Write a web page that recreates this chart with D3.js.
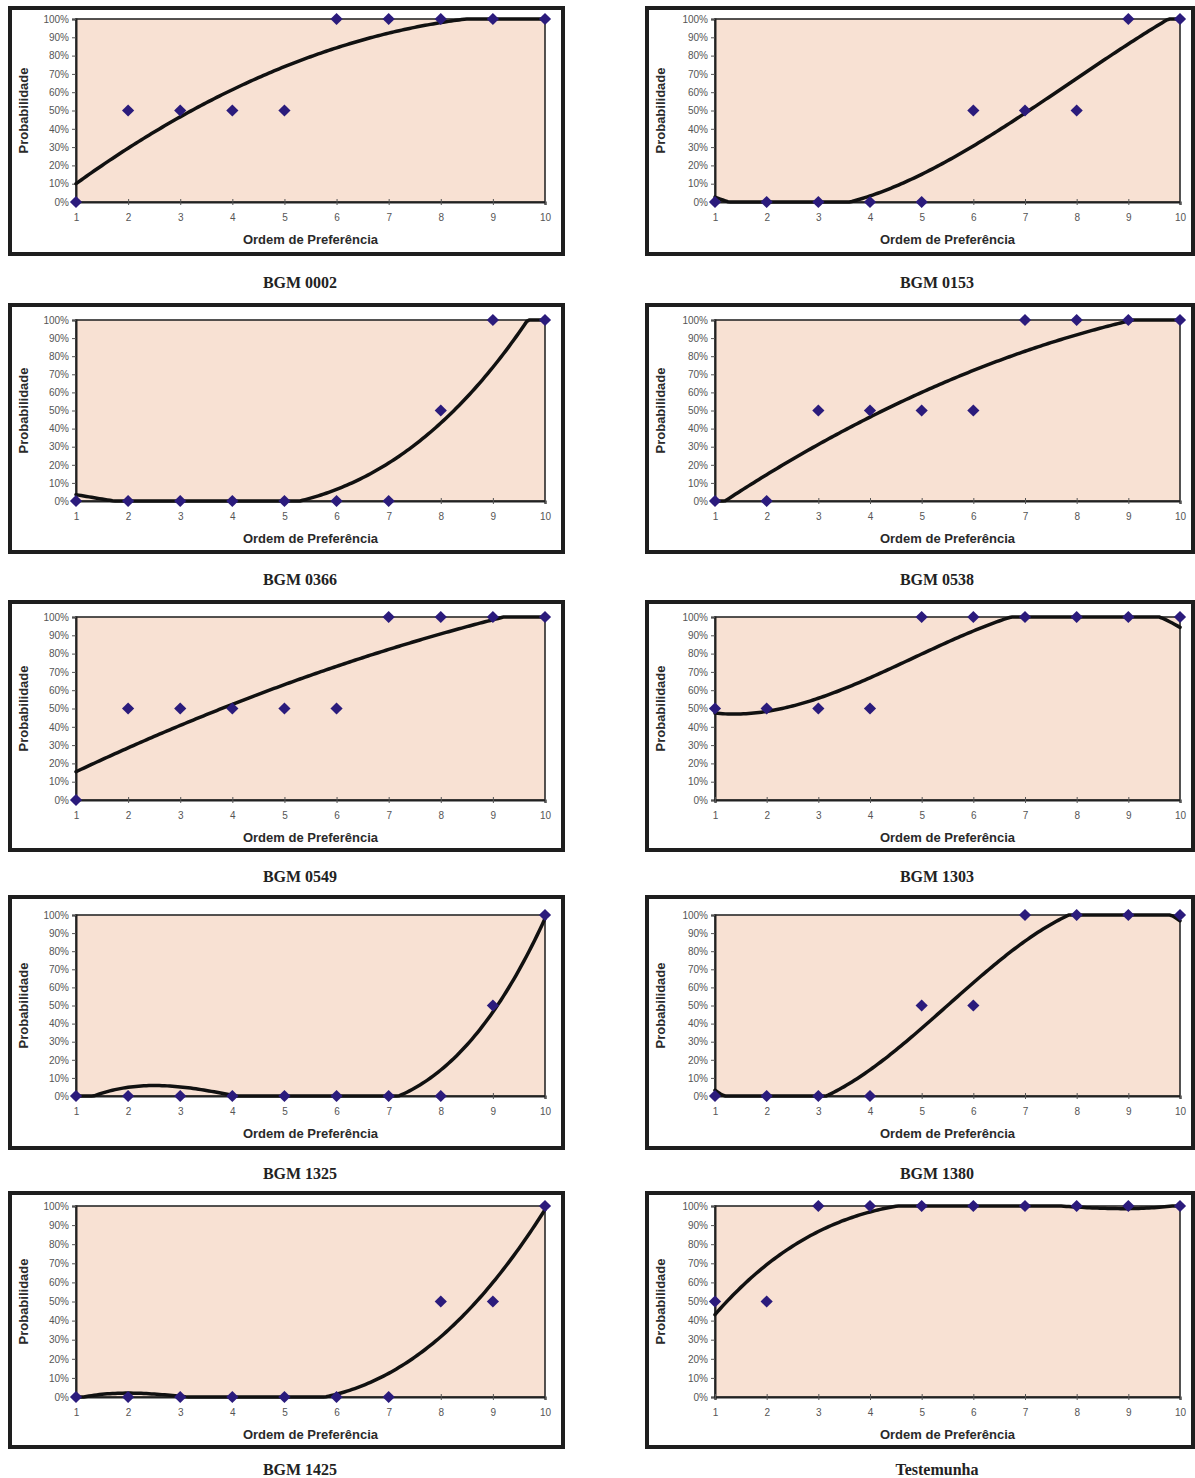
<!DOCTYPE html>
<html>
<head>
<meta charset="utf-8">
<script src="https://cdn.jsdelivr.net/npm/d3@7"></script>
<style>
  body { margin: 0; background: #fff; }
  svg { display: block; }
</style>
</head>
<body>
<div id="content"></div>
<script>
// panel names, in reading order (left, right per row)
const panelNames = ['BGM 0002', 'BGM 0153', 'BGM 0366', 'BGM 0538', 'BGM 0549',
                    'BGM 1303', 'BGM 1325', 'BGM 1380', 'BGM 1425', 'Testemunha']
const ranks = [1, 2, 3, 4, 5, 6, 7, 8, 9, 10]
const yTicks = [0, 0.1, 0.2, 0.3, 0.4, 0.5, 0.6, 0.7, 0.8, 0.9, 1]

// probability per preference rank
const bgm0002 = [0, 0.5, 0.5, 0.5, 0.5, 1, 1, 1, 1, 1]
const bgm0153 = [0, 0, 0, 0, 0, 0.5, 0.5, 0.5, 1, 1]
const bgm0366 = [0, 0, 0, 0, 0, 0, 0, 0.5, 1, 1]
const bgm0538 = [0, 0, 0.5, 0.5, 0.5, 0.5, 1, 1, 1, 1]
const bgm0549 = [0, 0.5, 0.5, 0.5, 0.5, 0.5, 1, 1, 1, 1]
const bgm1303 = [0.5, 0.5, 0.5, 0.5, 1, 1, 1, 1, 1, 1]
const bgm1325 = [0, 0, 0, 0, 0, 0, 0, 0, 0.5, 1]
const bgm1380 = [0, 0, 0, 0, 0.5, 0.5, 1, 1, 1, 1]
const bgm1425 = [0, 0, 0, 0, 0, 0, 0, 0.5, 0.5, 1]
const testemunha = [0.5, 0.5, 1, 1, 1, 1, 1, 1, 1, 1]

// polynomial trendline order used in each panel
const trendOrder = [2, 3, 3, 2, 2, 3, 3, 3, 4, 3]

const series = [bgm0002, bgm0153, bgm0366, bgm0538, bgm0549,
                bgm1303, bgm1325, bgm1380, bgm1425, testemunha]

// layout (pixels)
const W = 1195, H = 1478
const cols = [
    { fx0: 10, fx1: 563, px0: 76, px1: 545, capX: 300 },
    { fx0: 647, fx1: 1193, px0: 715, px1: 1180, capX: 937 }
]
const rows = [
    { fy0: 8, fy1: 254, py0: 19, py1: 202, capY: 288 },
    { fy0: 305, fy1: 552, py0: 320, py1: 501, capY: 585 },
    { fy0: 602, fy1: 850, py0: 617, py1: 800, capY: 882 },
    { fy0: 897, fy1: 1148, py0: 915, py1: 1096, capY: 1179 },
    { fy0: 1193, fy1: 1447, py0: 1206, py1: 1397, capY: 1475 }
]

const svg = d3.select('#content')
    .append('svg')
    .attr('width', W)
    .attr('height', H)

// least squares polynomial fit, like a spreadsheet trendline
const polyFit = (xs, ys, order) => {
    const n = order + 1
    const A = d3.range(n).map(() => new Array(n + 1).fill(0))
    xs.forEach((x, k) => {
        for (let i = 0; i < n; i++) {
            for (let j = 0; j < n; j++) A[i][j] += Math.pow(x, i + j)
            A[i][n] += ys[k] * Math.pow(x, i)
        }
    })
    for (let c = 0; c < n; c++) {
        let p = c
        for (let r = c + 1; r < n; r++) if (Math.abs(A[r][c]) > Math.abs(A[p][c])) p = r
        const tmp = A[c]; A[c] = A[p]; A[p] = tmp
        for (let r = 0; r < n; r++) {
            if (r === c) continue
            const f = A[r][c] / A[c][c]
            for (let k = c; k <= n; k++) A[r][k] -= f * A[c][k]
        }
    }
    const coef = d3.range(n).map(i => A[i][n] / A[i][i])
    return x => coef.reduce((s, c, i) => s + c * Math.pow(x, i), 0)
}

const font = 'Arial, "Liberation Sans", Helvetica, sans-serif'

series.forEach((values, idx) => {
    const col = cols[idx % 2]
    const row = rows[Math.floor(idx / 2)]

    const x = d3.scaleLinear().domain([1, 10]).range([col.px0, col.px1])
    const y = d3.scaleLinear().domain([0, 1]).range([row.py1, row.py0])

    const g = svg.append('g')

    // outer frame
    g.append('rect')
        .attr('x', col.fx0)
        .attr('y', row.fy0)
        .attr('width', col.fx1 - col.fx0)
        .attr('height', row.fy1 - row.fy0)
        .attr('fill', '#fff')
        .attr('stroke', '#1e1e1e')
        .attr('stroke-width', 4)

    // plot area
    g.append('rect')
        .attr('x', col.px0)
        .attr('y', row.py0)
        .attr('width', col.px1 - col.px0)
        .attr('height', row.py1 - row.py0)
        .attr('fill', '#f8e1d3')
        .attr('stroke', '#2a2a2a')
        .attr('stroke-width', 1.6)

    // y axis
    const yAxis = g.append('g')
        .attr('transform', `translate(${col.px0},0)`)
        .call(d3.axisLeft(y).tickValues(yTicks).tickSize(4).tickPadding(3)
            .tickFormat(d3.format('.0%')))
    yAxis.select('.domain').attr('stroke', '#222').attr('stroke-width', 2)
    yAxis.selectAll('.tick line').attr('stroke', '#555')
    yAxis.selectAll('.tick text')
        .attr('font-family', font)
        .attr('font-size', 10)
        .attr('fill', '#555')

    // x axis
    const xAxis = g.append('g')
        .attr('transform', `translate(0,${row.py1})`)
        .call(d3.axisBottom(x).tickValues(ranks).tickSize(3).tickPadding(9)
            .tickFormat(d3.format('d')))
    xAxis.select('.domain').attr('stroke', '#222').attr('stroke-width', 2.2)
    xAxis.selectAll('.tick line').attr('stroke', '#555').attr('y1', -3)
    xAxis.selectAll('.tick text')
        .attr('font-family', font)
        .attr('font-size', 10)
        .attr('fill', '#555')

    // axis titles
    g.append('text')
        .text('Probabilidade')
        .attr('transform', `translate(${col.fx0 + 13},${(row.py0 + row.py1) / 2}) rotate(-90)`)
        .attr('dy', '0.35em')
        .attr('text-anchor', 'middle')
        .attr('font-family', font)
        .attr('font-weight', 'bold')
        .attr('font-size', 13)
        .attr('fill', '#2a2a2a')

    g.append('text')
        .text('Ordem de Preferência')
        .attr('x', (col.px0 + col.px1) / 2)
        .attr('y', row.py1 + 42)
        .attr('text-anchor', 'middle')
        .attr('font-family', font)
        .attr('font-weight', 'bold')
        .attr('font-size', 13)
        .attr('fill', '#2a2a2a')

    // trendline, kept inside the plot area
    const fit = polyFit(ranks, values, trendOrder[idx])
    const samples = d3.range(1, 10.001, 0.05).map(r => [r, Math.max(0, Math.min(1, fit(r)))])
    g.append('path')
        .datum(samples)
        .attr('fill', 'none')
        .attr('stroke', '#111')
        .attr('stroke-width', 3.5)
        .attr('stroke-linecap', 'round')
        .attr('d', d3.line().x(d => x(d[0])).y(d => y(d[1])))

    // points
    g.selectAll('path.pt')
        .data(values)
        .join('path')
        .attr('class', 'pt')
        .attr('d', d3.symbol(d3.symbolDiamond2, 95)())
        .attr('transform', (d, i) => `translate(${x(ranks[i])},${y(d)})`)
        .attr('fill', '#2b1b7c')

    // caption
    svg.append('text')
        .text(panelNames[idx])
        .attr('x', col.capX)
        .attr('y', row.capY)
        .attr('text-anchor', 'middle')
        .attr('font-family', '"Liberation Serif", "Times New Roman", serif')
        .attr('font-weight', 'bold')
        .attr('font-size', 16)
        .attr('fill', '#222')
})
</script>
</body>
</html>
